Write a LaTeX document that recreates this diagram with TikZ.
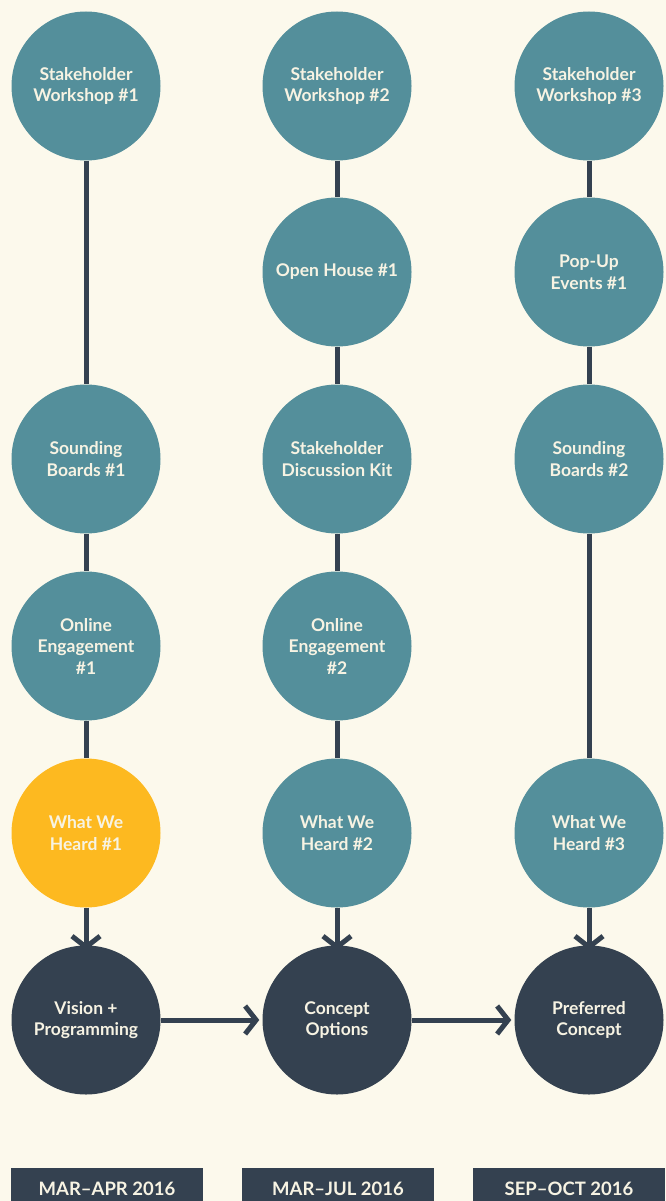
\documentclass[tikz,border=0pt]{standalone}
\usepackage{fontspec}
\setmainfont{Lato}
\usetikzlibrary{arrows.meta, positioning}
\definecolor{Cream}{HTML}{FCF9EC}
\definecolor{Teal}{HTML}{548F9B}
\definecolor{Slate}{HTML}{344150}
\definecolor{Gold}{HTML}{FDB920}
\definecolor{Paper}{HTML}{F7F3E3}

\begin{document}
\begin{tikzpicture}[x=1pt, y=-1pt,
        phase/.style={circle, fill=Teal, minimum size=149pt, inner sep=0pt, text=Paper,
            align=center, font=\fontsize{17.5}{21.5}\selectfont\bfseries},
        heard/.style={phase, fill=Gold},
        outcome/.style={phase, fill=Slate},
        period/.style={fill=Slate, text=Paper, minimum width=192pt, minimum height=42pt,
            inner sep=0pt, font=\fontsize{18.5}{22}\selectfont\bfseries},
        link/.style={draw=Slate, line width=5pt},
        flow/.style={link, -{Straight Barb[length=11pt, width=28pt]}}]
        % Canvas
        \fill[Cream] (0,0) rectangle (666,1201);
        \useasboundingbox (0,0) rectangle (666,1201);

        % Column 1
        \node[phase] (sw1) at (86, 86) {Stakeholder\\Workshop \#1};
        \node[phase] (sb1) at (86, 459) {Sounding\\Boards \#1};
        \node[phase] (oe1) at (86, 646) {Online\\Engagement\\\#1};
        \node[heard] (wh1) at (86, 833) {What We\\Heard \#1};
        \node[outcome] (vp) at (86, 1020) {Vision +\\Programming};

        % Column 2
        \node[phase] (sw2) at (337, 86) {Stakeholder\\Workshop \#2};
        \node[phase] (oh1) at (337, 272) {Open House \#1};
        \node[phase] (dk) at (337, 459) {Stakeholder\\Discussion Kit};
        \node[phase] (oe2) at (337, 646) {Online\\Engagement\\\#2};
        \node[phase] (wh2) at (337, 833) {What We\\Heard \#2};
        \node[outcome] (co) at (337, 1020) {Concept\\Options};

        % Column 3
        \node[phase] (sw3) at (589, 86) {Stakeholder\\Workshop \#3};
        \node[phase] (pu1) at (589, 272) {Pop-Up\\Events \#1};
        \node[phase] (sb2) at (589, 459) {Sounding\\Boards \#2};
        \node[phase] (wh3) at (589, 833) {What We\\Heard \#3};
        \node[outcome] (pc) at (589, 1020) {Preferred\\Concept};

        % Connectors
        \draw[link] (sw1) -- (sb1);
        \draw[link] (sb1) -- (oe1);
        \draw[link] (oe1) -- (wh1);
        \draw[link] (sw2) -- (oh1);
        \draw[link] (oh1) -- (dk);
        \draw[link] (dk) -- (oe2);
        \draw[link] (oe2) -- (wh2);
        \draw[link] (sw3) -- (pu1);
        \draw[link] (pu1) -- (sb2);
        \draw[link] (sb2) -- (wh3);
        \draw[flow] (wh1) -- ([yshift=-5pt]vp.north);
        \draw[flow] (wh2) -- ([yshift=-5pt]co.north);
        \draw[flow] (wh3) -- ([yshift=-5pt]pc.north);
        \draw[flow] (vp) -- ([xshift=-3pt]co.west);
        \draw[flow] (co) -- ([xshift=-3pt]pc.west);

        % Time periods
        \foreach \x/\name/\txt in {107/p1/MAR--APR 2016, 338/p2/MAR--JUL 2016, 569/p3/SEP--OCT 2016} {
            \node[period] (\name) at (\x, 1189) {\txt};
        }
\end{tikzpicture}
\end{document}
